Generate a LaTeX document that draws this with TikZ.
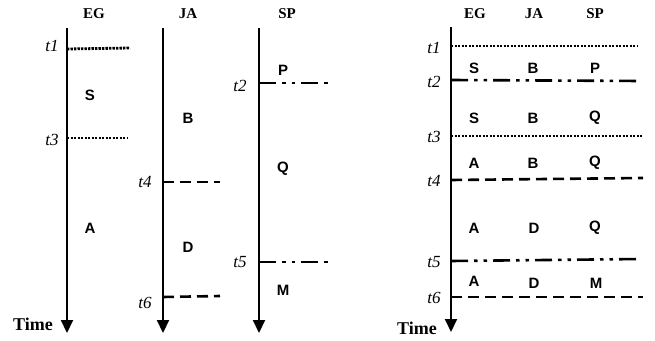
\documentclass[tikz,border=0pt]{standalone}
\usepackage{fontspec}
\setmainfont{Liberation Serif}
\setsansfont{Liberation Sans}
\usetikzlibrary{arrows.meta}
\begin{document}
\begin{tikzpicture}[x=1pt,y=-1pt,
  axis/.style={line width=2pt,-{Triangle[width=12pt,length=13pt]}},
  hdr/.style={font=\fontsize{15}{15}\selectfont\bfseries\rmfamily,inner sep=0pt},
  timelbl/.style={font=\fontsize{18}{18}\selectfont\bfseries\rmfamily,inner sep=0pt},
  tlbl/.style={font=\fontsize{17}{17}\selectfont\itshape\rmfamily,inner sep=0pt},
  st/.style={font=\fontsize{15}{15}\selectfont\bfseries\sffamily,inner sep=0pt},
  dotl/.style={line width=2.8pt,dash pattern=on 2.3pt off 1.2pt},
  dashl/.style={line width=2.6pt,dash pattern=on 11pt off 6pt},
  ddl/.style={line width=2.6pt,dash pattern=on 17pt off 6pt on 3.5pt off 6pt on 3.5pt off 6pt},
]
\useasboundingbox (0,0) rectangle (655,340);
% ---------- left panel ----------
\coordinate (egT) at (67,28);  \coordinate (egB) at (67,333);
\coordinate (jaT) at (163,28); \coordinate (jaB) at (163,333);
\coordinate (spT) at (259,28); \coordinate (spB) at (259,333);
\draw[axis] (egT) -- (egB);
\draw[axis] (jaT) -- (jaB);
\draw[axis] (spT) -- (spB);
\node[hdr] (hEG) at (94,14) {EG};
\node[hdr] (hJA) at (188,14) {JA};
\node[hdr] (hSP) at (287,14) {SP};
\node[timelbl] (time1) at (33,324) {Time};
% EG
\coordinate (l1a) at (67,49);  \coordinate (l1b) at (130,48);
\coordinate (l3a) at (67,138); \coordinate (l3b) at (128,138);
\draw[dotl] (l1a) -- (l1b);
\draw[dotl] (l3a) -- (l3b);
\node[tlbl] (lt1) at (52,46) {t1};
\node[tlbl] (lt3) at (52,140) {t3};
\node[st] (lS) at (90,95) {S};
\node[st] (lA) at (90,228) {A};
% JA
\coordinate (l4a) at (163,182); \coordinate (l4b) at (220,182);
\coordinate (l6a) at (163,297); \coordinate (l6b) at (220,296);
\draw[dashl] (l4a) -- (l4b);
\draw[dashl] (l6a) -- (l6b);
\node[tlbl] (lt4) at (145,182) {t4};
\node[tlbl] (lt6) at (145,303) {t6};
\node[st] (lB) at (188,118) {B};
\node[st] (lD) at (188,247) {D};
% SP
\coordinate (l2a) at (259,83); \coordinate (l2b) at (329,83);
\coordinate (l5a) at (259,262); \coordinate (l5b) at (329,262);
\draw[ddl] (l2a) -- (l2b);
\draw[ddl] (l5a) -- (l5b);
\node[tlbl] (lt2) at (240,86) {t2};
\node[tlbl] (lt5) at (240,262) {t5};
\node[st] (lP) at (283,70) {P};
\node[st] (lQ) at (283,169) {Q};
\node[st] (lM) at (283,290) {M};
% ---------- right panel ----------
\coordinate (rT) at (451,27); \coordinate (rB) at (451,332);
\draw[axis] (rT) -- (rB);
\node[hdr] (rEG) at (475,14) {EG};
\node[hdr] (rJA) at (534,14) {JA};
\node[hdr] (rSP) at (595,14) {SP};
\node[timelbl] (time2) at (417,328) {Time};
\coordinate (r1a) at (451,46);  \coordinate (r1b) at (638,46);
\coordinate (r2a) at (451,80);  \coordinate (r2b) at (641,81);
\coordinate (r3a) at (451,136); \coordinate (r3b) at (642,136);
\coordinate (r4a) at (451,180); \coordinate (r4b) at (643,178);
\coordinate (r5a) at (451,261); \coordinate (r5b) at (641,259);
\coordinate (r6a) at (451,297); \coordinate (r6b) at (643,297);
\draw[dotl] (r1a) -- (r1b);
\draw[ddl] (r2a) -- (r2b);
\draw[dotl] (r3a) -- (r3b);
\draw[dashl] (r4a) -- (r4b);
\draw[ddl] (r5a) -- (r5b);
\draw[dashl] (r6a) -- (r6b);
\node[tlbl] (rt1) at (434,48) {t1};
\node[tlbl] (rt2) at (434,82) {t2};
\node[tlbl] (rt3) at (434,137) {t3};
\node[tlbl] (rt4) at (434,181) {t4};
\node[tlbl] (rt5) at (434,262) {t5};
\node[tlbl] (rt6) at (434,298) {t6};
% state rows
\node[st] (a1) at (474,68) {S};  \node[st] (b1) at (533,68) {B};  \node[st] (c1) at (595,68) {P};
\node[st] (a2) at (474,118) {S}; \node[st] (b2) at (533,118) {B}; \node[st] (c2) at (595,118) {Q};
\node[st] (a3) at (474,163) {A}; \node[st] (b3) at (533,163) {B}; \node[st] (c3) at (595,163) {Q};
\node[st] (a4) at (474,228) {A}; \node[st] (b4) at (534,228) {D}; \node[st] (c4) at (595,228) {Q};
\node[st] (a5) at (474,281) {A}; \node[st] (b5) at (534,283) {D}; \node[st] (c5) at (596,283) {M};
\end{tikzpicture}
\end{document}
